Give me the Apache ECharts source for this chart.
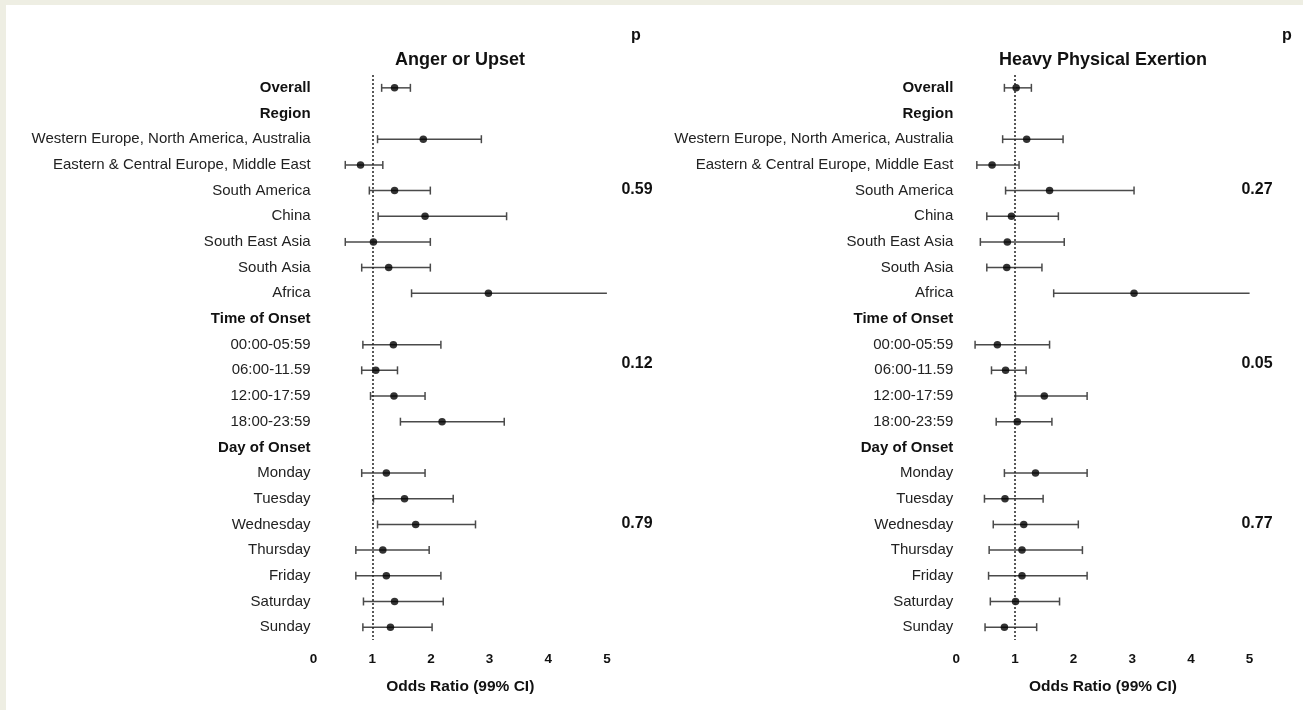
<!DOCTYPE html>
<html>
<head>
<meta charset="utf-8">
<script src="https://cdn.jsdelivr.net/npm/echarts@6/dist/echarts.min.js"></script>
<style>
html,body{margin:0;padding:0;background:#fff;}
#chart{width:1303px;height:710px;}
</style>
</head>
<body>
<div id="chart"></div>
<script>
// ---- data ----
const rows = ['Overall','Region','Western Europe, North America, Australia','Eastern & Central Europe, Middle East','South America','China','South East Asia','South Asia','Africa','Time of Onset','00:00-05:59','06:00-11.59','12:00-17:59','18:00-23:59','Day of Onset','Monday','Tuesday','Wednesday','Thursday','Friday','Saturday','Sunday'];
const headerRows = ['Overall','Region','Time of Onset','Day of Onset'];

const angerOR = [1.38, null, 1.87, 0.80, 1.38, 1.90, 1.02, 1.28, 2.98, null, 1.36, 1.06, 1.37, 2.19, null, 1.24, 1.55, 1.74, 1.18, 1.24, 1.38, 1.31];
const angerLo = [1.16, null, 1.09, 0.54, 0.95, 1.10, 0.54, 0.82, 1.67, null, 0.84, 0.82, 0.97, 1.48, null, 0.82, 1.02, 1.09, 0.72, 0.72, 0.85, 0.84];
const angerHi = [1.65, null, 2.86, 1.18, 1.99, 3.29, 1.99, 1.99, 5.5, null, 2.17, 1.43, 1.90, 3.25, null, 1.90, 2.38, 2.76, 1.97, 2.17, 2.21, 2.02];

const exertOR = [1.02, null, 1.20, 0.61, 1.59, 0.94, 0.87, 0.86, 3.03, null, 0.70, 0.84, 1.50, 1.04, null, 1.35, 0.83, 1.15, 1.12, 1.12, 1.01, 0.82];
const exertLo = [0.82, null, 0.79, 0.35, 0.84, 0.52, 0.41, 0.52, 1.66, null, 0.32, 0.60, 1.01, 0.68, null, 0.82, 0.48, 0.63, 0.56, 0.55, 0.58, 0.49];
const exertHi = [1.28, null, 1.82, 1.07, 3.03, 1.74, 1.84, 1.46, 5.5, null, 1.59, 1.19, 2.23, 1.63, null, 2.23, 1.48, 2.08, 2.15, 2.23, 1.76, 1.37];

const xTicks = [0, 1, 2, 3, 4, 5];
const panelTitles = ['Anger or Upset', 'Heavy Physical Exertion'];
const pAnger = ['0.59', '0.12', '0.79'];
const pExert = ['0.27', '0.05', '0.77'];
const axisName = 'Odds Ratio (99% CI)';
const refLine = 1;

// ---- chart ----
const FONT = '"Liberation Sans", Arial, Helvetica, sans-serif';
const chart = echarts.init(document.getElementById('chart'));

const gridTop = 75, gridH = 565, gridW = 293.3;
const grids = [
  {left: 313.6, top: gridTop, width: gridW, height: gridH},
  {left: 956.3, top: gridTop, width: gridW, height: gridH}
];

function makeX(i){
  return {
    type: 'value', gridIndex: i, min: xTicks[0], max: xTicks[xTicks.length-1], interval: 1,
    axisLine: {show: false}, axisTick: {show: false}, splitLine: {show: false},
    axisLabel: {color: '#111', fontWeight: 'bold', fontSize: 13.5, fontFamily: FONT, margin: 12},
    name: axisName, nameLocation: 'middle', nameGap: 39,
    nameTextStyle: {color: '#111', fontWeight: 'bold', fontSize: 15.5, fontFamily: FONT}
  };
}
function makeY(i){
  return {
    type: 'category', gridIndex: i, data: rows, inverse: true,
    axisLine: {show: false}, axisTick: {show: false}, splitLine: {show: false},
    axisLabel: {
      margin: 3, fontSize: 15, fontFamily: FONT, color: '#222',
      formatter: v => headerRows.includes(v) ? '{b|' + v + '}' : v,
      rich: {b: {fontWeight: 'bold', fontSize: 15, fontFamily: FONT, color: '#111'}}
    }
  };
}

function errorSeries(i, lo, hi){
  const data = [];
  rows.forEach((r, k) => { if (lo[k] != null) data.push([lo[k], hi[k], r]); });
  return {
    type: 'custom', xAxisIndex: i, yAxisIndex: i,
    encode: {x: [0, 1], y: 2},
    data: data,
    renderItem: function(params, api){
      const cs = params.coordSys;
      const p1 = api.coord([api.value(0), api.value(2)]);
      const p2 = api.coord([api.value(1), api.value(2)]);
      const xmin = cs.x, xmax = cs.x + cs.width;
      const x1 = Math.max(xmin, p1[0]), x2 = Math.min(xmax, p2[0]);
      const y = p1[1], h = 4;
      const style = {stroke: '#4a4a4a', lineWidth: 1.5};
      const children = [{type: 'line', shape: {x1: x1, y1: y, x2: x2, y2: y}, style: style}];
      if (p1[0] >= xmin) children.push({type: 'line', shape: {x1: p1[0], y1: y - h, x2: p1[0], y2: y + h}, style: style});
      if (p2[0] <= xmax) children.push({type: 'line', shape: {x1: p2[0], y1: y - h, x2: p2[0], y2: y + h}, style: style});
      return {type: 'group', children: children};
    },
    z: 2
  };
}
function pointSeries(i, or){
  const data = [];
  rows.forEach((r, k) => { if (or[k] != null) data.push([or[k], r]); });
  return {
    type: 'scatter', xAxisIndex: i, yAxisIndex: i, data: data,
    symbol: 'circle', symbolSize: 7.5, itemStyle: {color: '#000'}, z: 3,
    markLine: {
      silent: true, symbol: 'none', label: {show: false},
      lineStyle: {color: '#222', type: [2, 2], width: 1.5},
      data: [{xAxis: refLine}]
    }
  };
}

function txt(x, y, text, size){
  return {type: 'text', x: x, y: y, z: 10,
    style: {text: text, fill: '#111', font: 'bold ' + size + 'px ' + FONT, align: 'center', verticalAlign: 'middle'}};
}

const graphics = [
  {type: 'rect', shape: {x: 0, y: 0, width: 6, height: 710}, style: {fill: '#eeeee3'}, z: -1},
  {type: 'rect', shape: {x: 0, y: 0, width: 1303, height: 5}, style: {fill: '#eeeee3'}, z: -1},
  txt(460, 60, panelTitles[0], 18),
  txt(1103, 60, panelTitles[1], 18),
  txt(636, 36, 'p', 16),
  txt(1287, 36, 'p', 16),
  txt(637, 190, pAnger[0], 16),
  txt(637, 364, pAnger[1], 16),
  txt(637, 524, pAnger[2], 16),
  txt(1257, 190, pExert[0], 16),
  txt(1257, 364, pExert[1], 16),
  txt(1257, 524, pExert[2], 16)
];

chart.setOption({
  backgroundColor: '#fff',
  animation: false,
  grid: grids,
  xAxis: [makeX(0), makeX(1)],
  yAxis: [makeY(0), makeY(1)],
  series: [errorSeries(0, angerLo, angerHi), pointSeries(0, angerOR),
           errorSeries(1, exertLo, exertHi), pointSeries(1, exertOR)],
  graphic: graphics
});
</script>
</body>
</html>
